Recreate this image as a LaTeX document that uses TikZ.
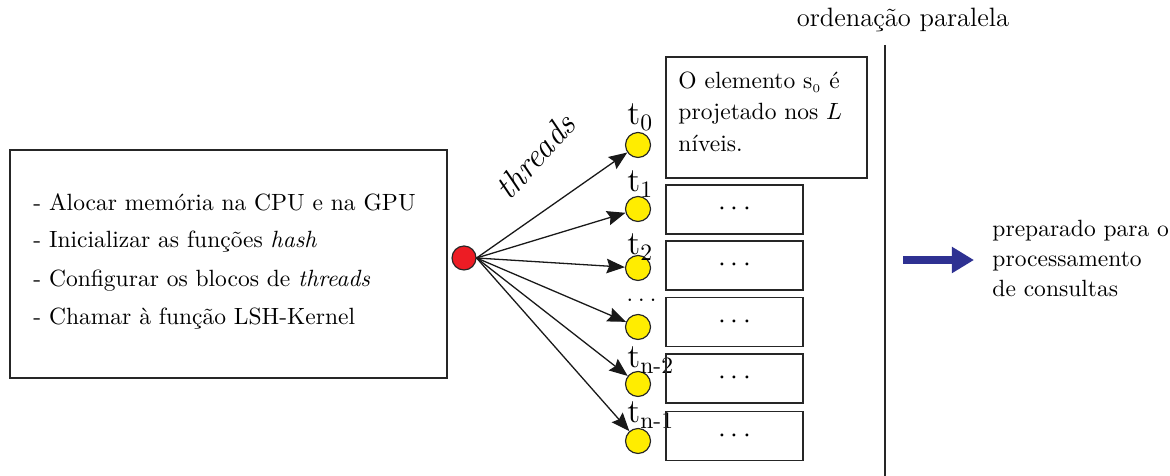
\documentclass[tikz,border=0pt]{standalone}
\usepackage{amsmath}
\usetikzlibrary{arrows.meta}
\definecolor{navyarrow}{RGB}{46,49,146}
\definecolor{yel}{RGB}{255,237,0}
\definecolor{redc}{RGB}{237,28,36}
\def\pxu{0.4255pt}
\newcommand{\spdots}{\raisebox{-0.8pt}{$\cdot$\hspace{2pt}$\cdot$\hspace{2pt}$\cdot$}}
\newcommand{\spldots}{.\hspace{2.2pt}.\hspace{2.2pt}.}
\begin{document}
\begin{tikzpicture}[x=0.4255pt,y=-0.4255pt,
  boxs/.style={draw=black!85,line width=0.6pt,inner sep=0pt},
  txt/.style={anchor=base west,inner sep=0pt,font=\normalsize},
  yc/.style={circle,draw=black!85,line width=0.5pt,fill=yel,minimum size=25*\pxu,inner sep=0pt},
  tl/.style={anchor=base west,inner sep=0pt,font=\Large},
  smallbox/.style={boxs,minimum width=137*\pxu,minimum height=49*\pxu,font=\large},
  arr/.style={-{Stealth[length=7.8pt,width=6.2pt,inset=1.1pt]},line width=0.55pt,black!90}]
\useasboundingbox (0,0) rectangle (1170,476);
% left box
\node[boxs,minimum width=437*\pxu,minimum height=228*\pxu] (left) at (228.5,264) {};
\node[txt] (l1) at (33,211) {- Alocar memória na CPU e na GPU};
\node[txt] (l2) at (33,248) {- Inicializar as funções \textit{hash}};
\node[txt] (l3) at (33,287) {- Configurar os blocos de \textit{threads}};
\node[txt] (l4) at (33,325) {- Chamar à função LSH-Kernel};
% red circle
\node[circle,draw=black!85,line width=0.5pt,fill=redc,minimum size=24*\pxu,inner sep=0pt] (red) at (464,258) {};
% yellow circles
\node[yc] (y0) at (638,145) {};
\node[yc] (y1) at (638,209) {};
\node[yc] (y2) at (638,268) {};
\node[yc] (y3) at (638,327) {};
\node[yc] (y4) at (638,384) {};
\node[yc] (y5) at (638,441) {};
% labels
\node[tl] (t0) at (627,125) {$\mathrm{t}_{0}$};
\node[tl] (t1) at (627,192) {$\mathrm{t}_{1}$};
\node[tl] (t2) at (627,255) {$\mathrm{t}_{2}$};
\node[anchor=base,inner sep=0pt] (t3) at (641.5,302) {\spldots};
\node[tl] (t4) at (627,368) {$\mathrm{t}_{\text{n-2}}$};
\node[tl] (t5) at (627,423) {$\mathrm{t}_{\text{n-1}}$};
% threads label
\node[rotate=48,font=\Large\itshape,inner sep=0pt] (thr) at (535,156) {threads};
% arrows
\foreach \k in {0,...,5}{\draw[arr] (red.east) -- (y\k);}
% top box
\node[boxs,minimum width=201*\pxu,minimum height=121*\pxu] (top) at (766.5,117.5) {};
\node[txt] (b1) at (678,89) {O elemento s$_{\scriptscriptstyle 0}$ é};
\node[txt] (b2) at (678,120) {projetado nos $L$};
\node[txt] (b3) at (678,152) {níveis.};
% small boxes
\node[smallbox] (s1) at (734.5,209.5) {\spdots};
\node[smallbox] (s2) at (734.5,265.5) {\spdots};
\node[smallbox] (s3) at (734.5,322) {\spdots};
\node[smallbox] (s4) at (734.5,378.5) {\spdots};
\node[smallbox] (s5) at (734.5,436) {\spdots};
% vertical line and title
\coordinate (vtop) at (885,45);
\coordinate (vbot) at (885,476);
\draw[black!85,line width=0.6pt] (vtop) -- (vbot);
\node[anchor=base,inner sep=0pt,font=\fontsize{11.3}{13.5}\selectfont] (title) at (903,27) {ordenação paralela};
% blue arrow
\coordinate (ba) at (903,260);
\coordinate (bb) at (974,260);
\draw[navyarrow,line width=3.4pt,-{Triangle[length=9.4pt,width=10.6pt]}] (ba) -- (bb);
\node[txt] (r1) at (992,237) {preparado para o};
\node[txt] (r2) at (992,267) {processamento};
\node[txt] (r3) at (992,297) {de consultas};
\end{tikzpicture}
\end{document}
